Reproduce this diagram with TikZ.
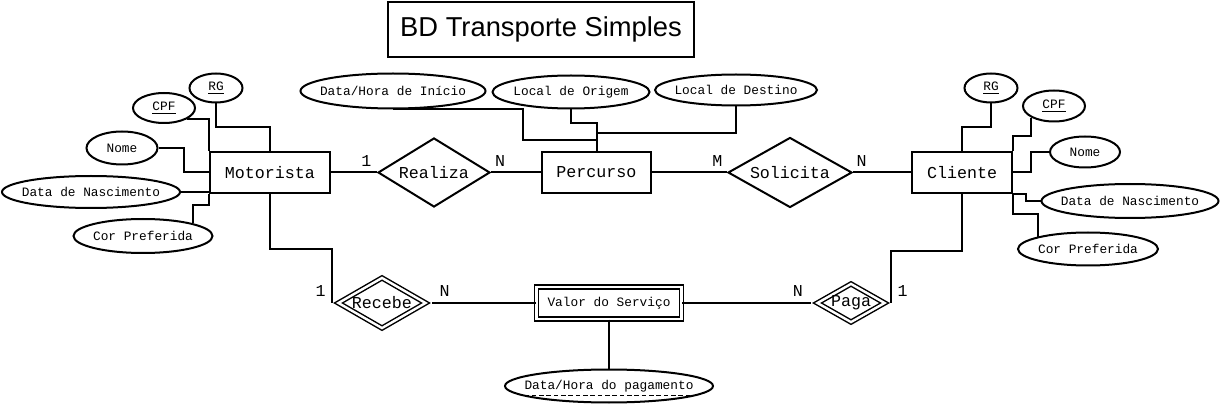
\documentclass[tikz,border=0pt]{standalone}
\usepackage{fontspec}
\setmainfont{Liberation Mono}
\newfontfamily\titlefont{Liberation Sans}
\usetikzlibrary{shapes.geometric}

\newcommand{\atext}[1]{\makebox[0pt]{#1}}

\begin{document}
\begin{tikzpicture}[x = 0.75pt, y = -0.75pt, line width = 1.5pt,
		entity/.style = {draw, rectangle, inner sep = 0pt, font = \fontsize{12.5}{15}\selectfont},
		relation/.style = {draw, diamond, aspect = 1.6, inner sep = 0pt, font = \fontsize{12.5}{15}\selectfont},
		weak/.style = {double, double distance = 1.8pt, line width = 1.1pt},
		attrib/.style = {draw, ellipse, inner sep = 0pt, font = \fontsize{9.6}{11}\selectfont},
		card/.style = {inner sep = 4pt, font = \fontsize{12.5}{15}\selectfont}]

	\useasboundingbox (0, 0) rectangle (1222, 406);

	% Title

	\node [draw, line width = 2.2pt, minimum width = 229.5pt, minimum height = 41.25pt, font = \titlefont\fontsize{20.5}{24}\selectfont] (title) at (541, 29.5) {BD Transporte Simples};

	% Entities and relationships

	\node [entity, minimum width = 90pt, minimum height = 30.75pt] (Motorista) at (270, 172.5) {Motorista};
	\node [entity, minimum width = 81.75pt, minimum height = 30.75pt] (Percurso) at (596.5, 172.5) {Percurso};
	\node [entity, minimum width = 75pt, minimum height = 30.75pt] (Cliente) at (962, 172.5) {Cliente};
	\node [entity, weak, double distance = 2.2pt, minimum width = 108.75pt, minimum height = 24pt, font = \fontsize{9.6}{11}\selectfont] (Valor) at (609, 303) {Valor do Serviço};

	\node [relation, minimum width = 84pt, minimum height = 51.75pt] (Realiza) at (434, 172.5) {Realiza};
	\node [relation, minimum width = 93pt, minimum height = 52.5pt] (Solicita) at (790, 172.5) {Solicita};
	\node [relation, weak, outer sep = 3.5pt, minimum width = 68.25pt, minimum height = 40.5pt] (Recebe) at (382, 303) {Recebe};
	\node [relation, weak, outer sep = 3.5pt, minimum width = 53.25pt, minimum height = 31.5pt] (Paga) at (851, 303) {Paga};

	\draw (Motorista.east) -- node [card, pos = 0.77, above] {1} (Realiza.west);
	\draw (Realiza.east) -- node [card, pos = 0.18, above] {N} (Percurso.west);
	\draw (Percurso.east) -- node [card, pos = 0.87, above] {M} (Solicita.west);
	\draw (Solicita.east) -- node [card, pos = 0.15, above] {N} (Cliente.west);
	\draw (Motorista.south) -- ++(0, 55) -| (Recebe.west) node [card, above left] {1};
	\draw (Recebe.east) -- node [card, pos = 0.12, above] {N} (Valor.west);
	\draw (Valor.east) -- node [card, pos = 0.9, above] {N} (Paga.west);
	\draw (Paga.east) node [card, above right] {1} -- ++(0, -52) -| (Cliente.south);

	% Motorista attributes

	\node [attrib, minimum width = 39.75pt, minimum height = 21.75pt] (RGm) at (216, 88) {\atext{\underline{RG}}};
	\node [attrib, minimum width = 46.5pt, minimum height = 22.5pt] (CPFm) at (164, 108) {\atext{\underline{CPF}}};
	\node [attrib, minimum width = 53.25pt, minimum height = 24.75pt] (Nomem) at (122, 148) {\atext{Nome}};
	\node [attrib, minimum width = 133.5pt, minimum height = 24pt] (DataNascm) at (91, 192) {\atext{Data de Nascimento}};
	\node [attrib, minimum width = 104.25pt, minimum height = 25.5pt] (Corm) at (143, 236) {\atext{Cor Preferida}};

	\draw (RGm.south) -- ++(0, 24) -| (Motorista.north);
	\draw (CPFm.south east) -| (Motorista.north west);
	\draw (Nomem.east) -- ++(25, 0) |- (Motorista.west);
	\draw (DataNascm.east) -- (DataNascm.east -| Motorista.west);
	\draw (Corm.north east) -- ++(0, -18) -| (Motorista.south west);

	% Percurso attributes

	\node [attrib, minimum width = 138.75pt, minimum height = 26.25pt] (DataHoraIni) at (393, 91) {\atext{Data/Hora de Início}};
	\node [attrib, minimum width = 117.75pt, minimum height = 24.75pt] (Origem) at (571, 92) {\atext{Local de Origem}};
	\node [attrib, minimum width = 121.5pt, minimum height = 23.25pt] (Destino) at (736, 90) {\atext{Local de Destino}};

	\draw (DataHoraIni.south) -| ++(130, 31) -| (Percurso.north);
	\draw (Origem.south) -- ++(0, 14) -| (Percurso.north);
	\draw (Destino.south) -- ++(0, 27) -| (Percurso.north);

	% Cliente attributes

	\node [attrib, minimum width = 39.75pt, minimum height = 21.75pt] (RGc) at (991, 88) {\atext{\underline{RG}}};
	\node [attrib, minimum width = 46.5pt, minimum height = 23.25pt] (CPFc) at (1054, 106) {\atext{\underline{CPF}}};
	\node [attrib, minimum width = 52.5pt, minimum height = 23.25pt] (Nomec) at (1085, 152) {\atext{Nome}};
	\node [attrib, minimum width = 132.75pt, minimum height = 25.5pt] (DataNascc) at (1130, 201) {\atext{Data de Nascimento}};
	\node [attrib, minimum width = 105pt, minimum height = 24.75pt] (Corc) at (1088, 249) {\atext{Cor Preferida}};

	\draw (RGc.south) -- ++(0, 24) -| (Cliente.north);
	\draw (CPFc.south west) -- ++(0, 18) -| (Cliente.north east);
	\draw (Nomec.west) -- ++(-18, 0) |- (Cliente.east);
	\draw (DataNascc.west) -- ++(-15, 0) |- (Cliente.south east);
	\draw (Corc.north west) -- ++(0, -23) -| (Cliente.south east);

	% Valor do Servico attribute (partial key, dashed underline)

	\node [attrib, minimum width = 156pt, minimum height = 24.75pt] (DataPag) at (609, 386) {\atext{Data/Hora do pagamento}};
	\draw [line width = 1pt, dash pattern = on 3.5pt off 2pt] ([xshift = -63.4pt, yshift = -7pt] DataPag.center) -- ([xshift = 63.4pt, yshift = -7pt] DataPag.center);

	\draw (Valor.south) -- (DataPag.north);

\end{tikzpicture}
\end{document}
